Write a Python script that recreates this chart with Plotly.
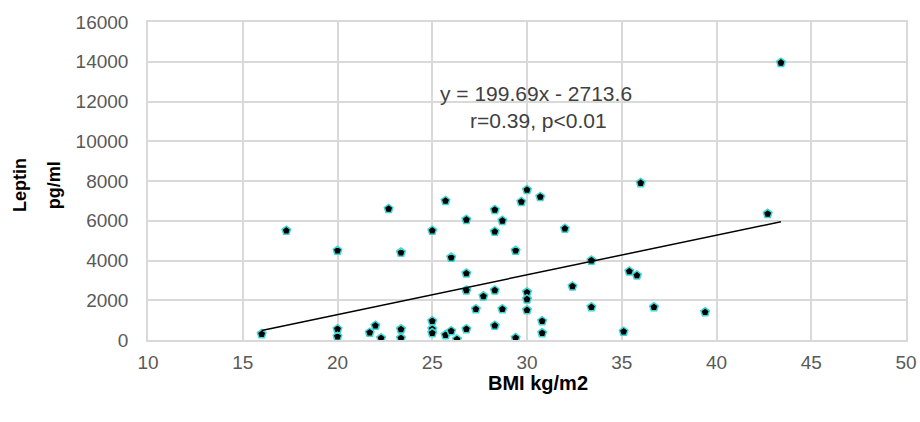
import plotly.graph_objects as go

bmi = [16.0, 17.3, 20.0, 20.0, 20.0, 21.7, 22.0, 22.3, 22.7, 23.35, 23.35, 23.35,
       25.0, 25.0, 25.0, 25.0, 25.7, 25.7, 26.0, 26.0, 26.3, 26.8, 26.8, 26.8, 26.8,
       27.3, 27.7, 28.3, 28.3, 28.3, 28.3, 28.7, 28.7, 29.4, 29.4, 29.7, 30.0, 30.0,
       30.0, 30.0, 30.7, 30.8, 30.8, 32.0, 32.4, 33.4, 33.4, 35.1, 35.4, 35.8, 36.0,
       36.7, 39.4, 42.7, 43.4]
leptin = [300, 5500, 4500, 550, 170, 370, 720, 90, 6600, 4400, 540, 90,
          5500, 950, 550, 350, 7000, 250, 4150, 450, 30, 6050, 3350, 2500, 550,
          1550, 2200, 6550, 5450, 2500, 720, 6000, 1550, 4500, 100, 6950, 7550, 2400,
          2050, 1500, 7200, 950, 350, 5600, 2700, 4000, 1650, 420, 3450, 3250, 7900,
          1650, 1400, 6350, 13950]

slope = 199.69
intercept = -2713.6
eq_text = "y = 199.69x - 2713.6"
stat_text = "r=0.39, p<0.01"
x_title = "BMI kg/m2"
y_title_lines = ["Leptin", "pg/ml"]

x_ticks = [10, 15, 20, 25, 30, 35, 40, 45, 50]
y_ticks = [0, 2000, 4000, 6000, 8000, 10000, 12000, 14000, 16000]
x_labels = [str(v) for v in x_ticks]
y_labels = [str(v) for v in y_ticks]

fit_x = [min(bmi), max(bmi)]
fit_y = [slope * v + intercept for v in fit_x]

fig = go.Figure()
fig.add_trace(go.Scatter(
    x=bmi, y=leptin, mode="markers",
    marker=dict(symbol="pentagon", size=9, color="black",
                line=dict(color="#3fd6d6", width=1.5)),
    showlegend=False))
fig.add_trace(go.Scatter(
    x=fit_x, y=fit_y, mode="lines",
    line=dict(color="black", width=1.5), showlegend=False))

font_family = "Liberation Sans, Arial, sans-serif"
fig.add_annotation(x=30.5, y=12400, text=eq_text, showarrow=False,
                   font=dict(family=font_family, size=21, color="#404040"))
fig.add_annotation(x=30.6, y=11050, text=stat_text, showarrow=False,
                   font=dict(family=font_family, size=21, color="#404040"))

# y-axis title as two rotated lines
for xp, line in zip([-0.169, -0.124], y_title_lines):
    fig.add_annotation(xref="paper", yref="paper", x=xp, y=0.487,
                       xanchor="center", yanchor="middle", textangle=-90,
                       text="<b>%s</b>" % line, showarrow=False,
                       font=dict(family=font_family, size=18, color="black"))

# x-axis title
fig.add_annotation(xref="paper", yref="paper", x=0.5145, y=-0.135,
                   xanchor="center", yanchor="middle",
                   text="<b>%s</b>" % x_title, showarrow=False,
                   font=dict(family=font_family, size=20, color="black"))

axis_common = dict(showgrid=True, gridcolor="#d9d9d9", gridwidth=1.5,
                   zeroline=False, showline=True, linecolor="#d9d9d9", linewidth=1.5,
                   mirror=True, ticks="",
                   tickfont=dict(family=font_family, size=19, color="#595959"))

fig.update_xaxes(range=[10, 50], tickvals=x_ticks, ticktext=x_labels,
                 ticklabelstandoff=4, **axis_common)
fig.update_yaxes(range=[0, 16000], tickvals=y_ticks, ticktext=y_labels,
                 ticklabelstandoff=14, **axis_common)

fig.update_layout(width=920, height=422, plot_bgcolor="white", paper_bgcolor="white",
                  margin=dict(l=148, r=14, t=22, b=82, autoexpand=False))

fig.write_html("out.html")
